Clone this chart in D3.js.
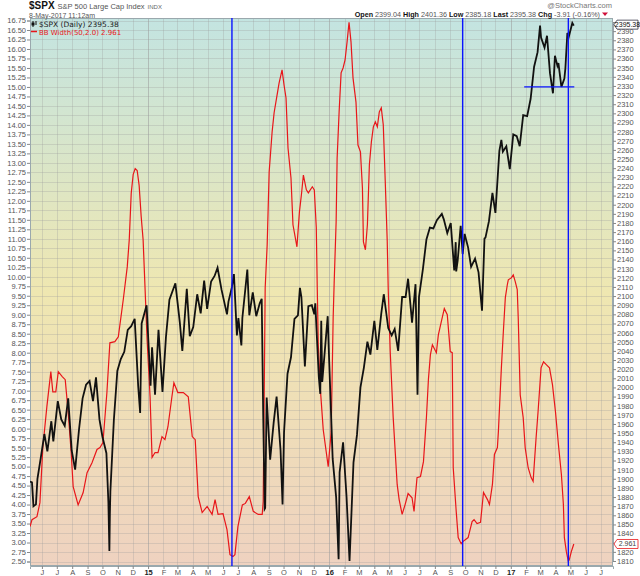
<!DOCTYPE html>
<html>
<head>
<meta charset="utf-8">
<script src="https://cdn.jsdelivr.net/npm/d3@7"></script>
<style>
  body { margin: 0; background: #fff; }
  text { font-family: "Liberation Sans", Arial, sans-serif; }
</style>
</head>
<body>
<div id="chart"></div>
<script>
var svgWidth = 640;
var svgHeight = 576;

var margin = { top: 18, right: 27, bottom: 10, left: 30 };

var width = svgWidth - margin.left - margin.right;
var height = svgHeight - margin.top - margin.bottom;

// BB Width (50,2.0), left axis
var bbWidth = [
  ["2014-05-08", 3.42], ["2014-05-12", 3.6], ["2014-05-22", 3.68], ["2014-05-28", 4.05],
  ["2014-06-03", 5.53], ["2014-06-11", 6.58], ["2014-06-19", 7.5], ["2014-06-23", 6.97],
  ["2014-06-29", 6.97], ["2014-07-04", 7.5], ["2014-07-12", 7.37], ["2014-07-18", 7.29],
  ["2014-07-24", 6.42], ["2014-07-30", 5.37], ["2014-08-03", 4.47], ["2014-08-13", 3.99],
  ["2014-08-23", 4.31], ["2014-08-31", 4.84], ["2014-09-10", 5.1], ["2014-09-20", 5.45],
  ["2014-09-26", 5.5], ["2014-10-02", 5.63], ["2014-10-10", 6.95], ["2014-10-16", 8.26],
  ["2014-10-26", 8.29], ["2014-11-02", 8.42], ["2014-11-12", 9.4], ["2014-11-20", 10.26],
  ["2014-11-24", 10.97], ["2014-11-28", 12.2], ["2014-12-02", 12.7], ["2014-12-06", 12.85],
  ["2014-12-10", 12.8], ["2014-12-14", 12.4], ["2014-12-18", 11.6], ["2014-12-22", 10.97],
  ["2014-12-30", 8.34], ["2015-01-05", 6.84], ["2015-01-09", 5.24], ["2015-01-15", 5.37],
  ["2015-01-21", 5.37], ["2015-01-29", 5.79], ["2015-02-04", 5.71], ["2015-02-10", 6.05],
  ["2015-02-18", 6.84], ["2015-02-22", 7.21], ["2015-03-02", 6.95], ["2015-03-13", 6.95],
  ["2015-03-23", 6.84], ["2015-03-31", 5.79], ["2015-04-06", 5.71], ["2015-04-12", 4.21],
  ["2015-04-20", 3.79], ["2015-04-30", 3.95], ["2015-05-10", 3.74], ["2015-05-16", 4.13],
  ["2015-05-22", 3.74], ["2015-06-01", 3.76], ["2015-06-09", 3.34], ["2015-06-15", 2.68],
  ["2015-06-21", 2.63], ["2015-06-25", 2.68], ["2015-07-01", 3.42], ["2015-07-10", 3.99],
  ["2015-07-16", 4.03], ["2015-07-24", 4.21], ["2015-08-01", 3.82], ["2015-08-11", 3.74],
  ["2015-08-19", 3.74], ["2015-08-21", 4.08], ["2015-08-25", 9.71], ["2015-08-29", 10.84],
  ["2015-09-02", 12.76], ["2015-09-08", 13.82], ["2015-09-12", 14.32], ["2015-09-18", 14.79],
  ["2015-09-22", 15.1], ["2015-09-28", 15.45], ["2015-10-02", 15.05], ["2015-10-06", 14.71],
  ["2015-10-10", 13.39], ["2015-10-16", 12.6], ["2015-10-20", 11.37], ["2015-10-28", 10.79],
  ["2015-11-02", 11.71], ["2015-11-06", 12.16], ["2015-11-10", 12.68], ["2015-11-16", 12.29],
  ["2015-11-20", 12.21], ["2015-11-28", 12.37], ["2015-12-02", 12.29], ["2015-12-06", 11.29],
  ["2015-12-08", 9.66], ["2015-12-10", 8.21], ["2015-12-14", 7.08], ["2015-12-20", 5.97],
  ["2015-12-26", 5.39], ["2015-12-30", 5.0], ["2016-01-05", 5.92], ["2016-01-09", 8.92],
  ["2016-01-11", 9.83], ["2016-01-15", 11.45], ["2016-01-17", 13.13], ["2016-01-21", 14.34],
  ["2016-01-25", 15.37], ["2016-01-29", 15.5], ["2016-02-02", 15.71], ["2016-02-06", 16.18],
  ["2016-02-10", 16.7], ["2016-02-14", 16.18], ["2016-02-18", 15.24], ["2016-02-24", 14.6],
  ["2016-02-28", 13.47], ["2016-03-04", 13.29], ["2016-03-08", 12.34], ["2016-03-10", 10.92],
  ["2016-03-14", 10.71], ["2016-03-18", 11.37], ["2016-03-22", 12.95], ["2016-03-26", 13.55],
  ["2016-03-30", 13.95], ["2016-04-03", 14.08], ["2016-04-07", 13.95], ["2016-04-11", 14.34],
  ["2016-04-15", 14.45], ["2016-04-19", 14.0], ["2016-04-23", 12.5], ["2016-04-27", 10.92],
  ["2016-04-29", 9.66], ["2016-05-03", 8.03], ["2016-05-09", 6.29], ["2016-05-17", 4.53],
  ["2016-05-21", 4.13], ["2016-05-27", 3.74], ["2016-06-02", 4.0], ["2016-06-08", 4.29],
  ["2016-06-16", 4.18], ["2016-06-20", 3.82], ["2016-06-26", 4.71], ["2016-07-03", 4.74],
  ["2016-07-09", 5.13], ["2016-07-15", 6.3], ["2016-07-19", 7.3], ["2016-07-23", 7.95],
  ["2016-07-27", 8.21], ["2016-08-04", 8.0], ["2016-08-08", 8.47], ["2016-08-14", 8.82],
  ["2016-08-20", 9.16], ["2016-08-26", 9.0], ["2016-09-01", 8.03], ["2016-09-05", 8.0],
  ["2016-09-07", 4.97], ["2016-09-13", 3.82], ["2016-09-17", 3.13], ["2016-09-23", 2.97],
  ["2016-09-27", 3.03], ["2016-10-07", 3.13], ["2016-10-15", 3.55], ["2016-10-19", 3.6],
  ["2016-10-25", 3.5], ["2016-11-01", 3.53], ["2016-11-07", 4.32], ["2016-11-15", 4.13],
  ["2016-11-19", 4.0], ["2016-11-25", 4.53], ["2016-11-29", 5.32], ["2016-12-05", 5.5],
  ["2016-12-07", 5.92], ["2016-12-13", 7.6], ["2016-12-17", 8.55], ["2016-12-21", 9.45],
  ["2016-12-25", 9.79], ["2016-12-27", 9.92], ["2017-01-02", 9.97], ["2017-01-06", 10.05],
  ["2017-01-10", 9.87], ["2017-01-14", 9.66], ["2017-01-16", 8.92], ["2017-01-20", 6.89],
  ["2017-01-26", 6.29], ["2017-01-30", 5.5], ["2017-02-05", 4.97], ["2017-02-11", 4.71],
  ["2017-02-15", 4.61], ["2017-02-21", 5.76], ["2017-02-25", 6.45], ["2017-03-03", 7.6],
  ["2017-03-08", 7.76], ["2017-03-14", 7.68], ["2017-03-20", 7.6], ["2017-03-26", 7.16],
  ["2017-04-01", 6.45], ["2017-04-07", 5.58], ["2017-04-13", 4.79], ["2017-04-17", 4.0],
  ["2017-04-19", 3.13], ["2017-04-23", 2.76], ["2017-04-27", 2.5], ["2017-04-29", 2.55],
  ["2017-05-03", 2.76], ["2017-05-08", 2.961]
];

// $SPX price, right axis (closes with the visible intraday spikes)
var spxPrice = [
  ["2014-05-08", 1897], ["2014-05-12", 1896], ["2014-05-15", 1870], ["2014-05-20", 1872],
  ["2014-05-23", 1900], ["2014-05-30", 1924], ["2014-06-06", 1949], ["2014-06-12", 1930],
  ["2014-06-20", 1963], ["2014-06-24", 1941], ["2014-07-03", 1985], ["2014-07-10", 1965],
  ["2014-07-17", 1958], ["2014-07-24", 1988], ["2014-07-31", 1931], ["2014-08-07", 1910],
  ["2014-08-15", 1955], ["2014-08-22", 1988], ["2014-08-29", 2003], ["2014-09-05", 2007],
  ["2014-09-12", 1985], ["2014-09-18", 2011], ["2014-09-25", 1965], ["2014-10-01", 1946],
  ["2014-10-09", 1928], ["2014-10-13", 1874], ["2014-10-15", 1821], ["2014-10-16", 1862],
  ["2014-10-17", 1886], ["2014-10-24", 1964], ["2014-10-31", 2018], ["2014-11-07", 2031],
  ["2014-11-14", 2039], ["2014-11-21", 2063], ["2014-11-28", 2067], ["2014-12-05", 2075],
  ["2014-12-12", 2002], ["2014-12-16", 1972], ["2014-12-19", 2070], ["2014-12-29", 2090],
  ["2015-01-06", 2002], ["2015-01-09", 2044], ["2015-01-15", 1992], ["2015-01-22", 2063],
  ["2015-01-30", 1995], ["2015-02-06", 2055], ["2015-02-13", 2096], ["2015-02-25", 2114],
  ["2015-03-06", 2071], ["2015-03-11", 2040], ["2015-03-20", 2108], ["2015-03-26", 2056],
  ["2015-04-02", 2066], ["2015-04-10", 2102], ["2015-04-17", 2081], ["2015-04-24", 2117],
  ["2015-04-30", 2086], ["2015-05-08", 2116], ["2015-05-15", 2122], ["2015-05-21", 2131],
  ["2015-05-29", 2107], ["2015-06-09", 2080], ["2015-06-12", 2094], ["2015-06-19", 2110],
  ["2015-06-23", 2124], ["2015-06-29", 2057], ["2015-07-02", 2076], ["2015-07-08", 2046],
  ["2015-07-10", 2076], ["2015-07-20", 2129], ["2015-07-24", 2079], ["2015-07-31", 2104],
  ["2015-08-07", 2078], ["2015-08-14", 2092], ["2015-08-18", 2097], ["2015-08-21", 1971],
  ["2015-08-24", 1867], ["2015-08-25", 1868], ["2015-08-28", 1989], ["2015-09-04", 1921],
  ["2015-09-11", 1961], ["2015-09-17", 1990], ["2015-09-25", 1931], ["2015-09-29", 1872],
  ["2015-10-02", 1951], ["2015-10-09", 2015], ["2015-10-16", 2033], ["2015-10-23", 2075],
  ["2015-10-30", 2079], ["2015-11-03", 2109], ["2015-11-06", 2099], ["2015-11-13", 2023],
  ["2015-11-20", 2089], ["2015-11-27", 2090], ["2015-12-02", 2080], ["2015-12-04", 2092],
  ["2015-12-11", 2012], ["2015-12-14", 1993], ["2015-12-16", 2073], ["2015-12-18", 2006],
  ["2015-12-29", 2078], ["2015-12-31", 2044], ["2016-01-08", 1922], ["2016-01-15", 1880],
  ["2016-01-20", 1812], ["2016-01-22", 1907], ["2016-01-29", 1940], ["2016-02-05", 1880],
  ["2016-02-11", 1810], ["2016-02-19", 1918], ["2016-02-26", 1948], ["2016-03-04", 2000],
  ["2016-03-11", 2022], ["2016-03-18", 2050], ["2016-03-24", 2036], ["2016-04-01", 2073],
  ["2016-04-07", 2041], ["2016-04-15", 2081], ["2016-04-20", 2102], ["2016-04-29", 2065],
  ["2016-05-06", 2057], ["2016-05-12", 2064], ["2016-05-19", 2040], ["2016-05-27", 2099],
  ["2016-06-03", 2099], ["2016-06-08", 2119], ["2016-06-16", 2071], ["2016-06-23", 2113],
  ["2016-06-27", 1992], ["2016-06-30", 2099], ["2016-07-08", 2130], ["2016-07-15", 2162],
  ["2016-07-22", 2175], ["2016-07-29", 2174], ["2016-08-05", 2183], ["2016-08-15", 2190],
  ["2016-08-19", 2184], ["2016-08-26", 2169], ["2016-09-02", 2180], ["2016-09-09", 2128],
  ["2016-09-12", 2159], ["2016-09-13", 2127], ["2016-09-16", 2139], ["2016-09-22", 2177],
  ["2016-09-26", 2146], ["2016-09-30", 2168], ["2016-10-07", 2153], ["2016-10-13", 2132],
  ["2016-10-21", 2141], ["2016-10-28", 2126], ["2016-11-04", 2084], ["2016-11-09", 2163],
  ["2016-11-11", 2164], ["2016-11-18", 2182], ["2016-11-25", 2213], ["2016-12-01", 2191],
  ["2016-12-09", 2259], ["2016-12-13", 2271], ["2016-12-16", 2258], ["2016-12-23", 2264],
  ["2016-12-30", 2239], ["2017-01-06", 2277], ["2017-01-13", 2275], ["2017-01-19", 2264],
  ["2017-01-26", 2298], ["2017-02-03", 2297], ["2017-02-10", 2316], ["2017-02-17", 2351],
  ["2017-02-24", 2367], ["2017-03-01", 2396], ["2017-03-03", 2383], ["2017-03-10", 2372],
  ["2017-03-15", 2385], ["2017-03-21", 2344], ["2017-03-27", 2322], ["2017-03-31", 2363],
  ["2017-04-05", 2352], ["2017-04-07", 2355], ["2017-04-13", 2329], ["2017-04-19", 2338],
  ["2017-04-21", 2349], ["2017-04-25", 2388], ["2017-04-28", 2384], ["2017-05-05", 2399],
  ["2017-05-08", 2396]
];

// vertical markers and the horizontal support line
var markerDates = ["2015-06-19", "2016-09-26", "2017-04-27"];
var supportLevel = 2329;
var supportRange = ["2017-01-28", "2017-05-09"];

var monthLetters = ["J", "F", "M", "A", "M", "J", "J", "A", "S", "O", "N", "D"];
var quoteFields = ["Open", "2399.04", "High", "2401.36", "Low", "2385.18", "Last", "2395.38", "Chg", "-3.91 (-0.16%)"];

var parseDate = d3.timeParse("%Y-%m-%d");

var svg = d3.select("#chart")
  .append("svg")
  .attr("width", svgWidth)
  .attr("height", svgHeight);

// scales
var xTimeScale = d3.scaleTime()
  .domain([parseDate("2014-05-08"), parseDate("2017-07-26")])
  .range([margin.left, margin.left + width]);

var yLeftScale = d3.scaleLinear()
  .domain([2.5, 16.75])
  .range([561.5, 20.5]);

var yRightScale = d3.scaleLinear()
  .domain([1810, 2400])
  .range([561, 22]);

// positions of the last-value tags
var spxTagY = yRightScale(spxPrice[spxPrice.length - 1][1]) - 1;
var bbTagY = yLeftScale(bbWidth[bbWidth.length - 1][1]);

// background gradient
var defs = svg.append("defs");
var grad = defs.append("linearGradient")
  .attr("id", "bg")
  .attr("x1", 0).attr("y1", 0).attr("x2", 0).attr("y2", 1);
grad.append("stop").attr("offset", "0%").attr("stop-color", "#c3e4e1");
grad.append("stop").attr("offset", "50%").attr("stop-color", "#efe7b1");
grad.append("stop").attr("offset", "100%").attr("stop-color", "#efd2c0");

defs.append("clipPath").attr("id", "plotclip")
  .append("rect")
  .attr("x", margin.left).attr("y", margin.top)
  .attr("width", width).attr("height", height);

svg.append("rect")
  .attr("x", margin.left)
  .attr("y", margin.top)
  .attr("width", width)
  .attr("height", height)
  .attr("fill", "url(#bg)");

// gridlines
var leftTicks = d3.range(2.5, 16.76, 0.25);
var rightTicks = d3.range(1810, 2401, 10);
var months = d3.timeMonth.range(parseDate("2014-06-01"), parseDate("2017-08-01"));

var grid = svg.append("g").attr("clip-path", "url(#plotclip)");

grid.selectAll(".hgrid")
  .data(leftTicks)
  .enter()
  .append("line")
  .attr("x1", margin.left)
  .attr("x2", margin.left + width)
  .attr("y1", d => Math.round(yLeftScale(d)) + 0.5)
  .attr("y2", d => Math.round(yLeftScale(d)) + 0.5)
  .attr("stroke", "#9a9a9a")
  .attr("stroke-opacity", 0.3);

grid.selectAll(".vgrid")
  .data(months)
  .enter()
  .append("line")
  .attr("x1", d => Math.round(xTimeScale(d)) + 0.5)
  .attr("x2", d => Math.round(xTimeScale(d)) + 0.5)
  .attr("y1", margin.top)
  .attr("y2", margin.top + height)
  .attr("stroke", "#9a9a9a")
  .attr("stroke-opacity", d => d.getMonth() === 0 ? 0.55 : 0.3);

// axes
var leftAxis = d3.axisLeft(yLeftScale)
  .tickValues(leftTicks)
  .tickFormat(d3.format(".2f"))
  .tickSize(3)
  .tickPadding(1);

var rightAxis = d3.axisRight(yRightScale)
  .tickValues(rightTicks)
  .tickFormat(d3.format("d"))
  .tickSize(3)
  .tickPadding(1);

var bottomAxis = d3.axisBottom(xTimeScale)
  .tickValues(months)
  .tickFormat(d => d.getMonth() === 0 ? d3.timeFormat("%y")(d) : monthLetters[d.getMonth()])
  .tickSize(3)
  .tickPadding(1);

var leftG = svg.append("g")
  .attr("transform", `translate(${margin.left}, 0)`)
  .call(leftAxis);

var rightG = svg.append("g")
  .attr("transform", `translate(${margin.left + width}, 0)`)
  .call(rightAxis);

var bottomG = svg.append("g")
  .attr("transform", `translate(0, ${margin.top + height})`)
  .call(bottomAxis);

[leftG, rightG, bottomG].forEach(function(g) {
  g.select(".domain").attr("stroke", "#9aa8ad");
  g.selectAll(".tick line").attr("stroke", "#888");
  g.selectAll(".tick text")
    .attr("fill", "#555")
    .style("font-size", "7.5px")
    .style("font-family", "'Liberation Sans', Arial, sans-serif");
});

// the tags sit on top of these labels, so leave them blank
rightG.selectAll(".tick text")
  .filter(d => Math.abs(yRightScale(d) - spxTagY) < 6 || Math.abs(yRightScale(d) - bbTagY) < 6)
  .text("");

bottomG.selectAll(".tick text")
  .filter(d => d.getMonth() === 0)
  .attr("fill", "#222")
  .style("font-weight", "bold");

svg.append("rect")
  .attr("x", margin.left + 0.5)
  .attr("y", margin.top + 0.5)
  .attr("width", width - 1)
  .attr("height", height - 1)
  .attr("fill", "none")
  .attr("stroke", "#9aa8ad");

// series
var plot = svg.append("g").attr("clip-path", "url(#plotclip)");

var spxLine = d3.line()
  .x(d => xTimeScale(parseDate(d[0])))
  .y(d => yRightScale(d[1]));

var bbLine = d3.line()
  .x(d => xTimeScale(parseDate(d[0])))
  .y(d => yLeftScale(d[1]));

plot.append("path")
  .datum(bbWidth)
  .attr("d", bbLine)
  .attr("fill", "none")
  .attr("stroke", "#e8161a")
  .attr("stroke-width", 1.2);

plot.append("path")
  .datum(spxPrice)
  .attr("d", spxLine)
  .attr("fill", "none")
  .attr("stroke", "#111")
  .attr("stroke-width", 1.8)
  .attr("stroke-linejoin", "miter");

// blue markers
plot.selectAll(".marker")
  .data(markerDates)
  .enter()
  .append("line")
  .attr("x1", d => xTimeScale(parseDate(d)))
  .attr("x2", d => xTimeScale(parseDate(d)))
  .attr("y1", margin.top)
  .attr("y2", margin.top + height)
  .attr("stroke", "#0a14ff")
  .attr("stroke-width", 1.4);

plot.append("line")
  .attr("x1", xTimeScale(parseDate(supportRange[0])))
  .attr("x2", xTimeScale(parseDate(supportRange[1])))
  .attr("y1", yRightScale(supportLevel))
  .attr("y2", yRightScale(supportLevel))
  .attr("stroke", "#0a14ff")
  .attr("stroke-width", 1.4);

// last value tags on the right axis
function valueTag(yPos, label, stroke, color) {
  var tx = margin.left + width + 1;
  var tag = svg.append("g");
  tag.append("path")
    .attr("d", `M${tx},${yPos} L${tx + 3},${yPos - 4.5} L${tx + 24},${yPos - 4.5} L${tx + 24},${yPos + 4.5} L${tx + 3},${yPos + 4.5} Z`)
    .attr("fill", "#fff")
    .attr("stroke", stroke)
    .attr("stroke-width", 0.8);
  tag.append("text")
    .attr("x", tx + 13.5)
    .attr("y", yPos + 2.5)
    .attr("text-anchor", "middle")
    .attr("fill", color)
    .style("font-size", "7px")
    .text(label);
}
valueTag(spxTagY, "2395.38", "#334", "#111");
valueTag(bbTagY, "2.961", "#e8161a", "#444");

// legend
var legend = svg.append("g");
legend.append("line")
  .attr("x1", 33).attr("x2", 33).attr("y1", 21).attr("y2", 27)
  .attr("stroke", "#111");
legend.append("rect")
  .attr("x", 31.5).attr("y", 22.5).attr("width", 3).attr("height", 3)
  .attr("fill", "#111");
legend.append("line")
  .attr("x1", 36).attr("x2", 36).attr("y1", 21).attr("y2", 25)
  .attr("stroke", "#111");
legend.append("text")
  .attr("x", 39).attr("y", 26.5)
  .attr("fill", "#222")
  .style("font-family", "'DejaVu Sans', sans-serif")
  .style("font-size", "7.5px")
  .text("$SPX (Daily) 2395.38");
legend.append("line")
  .attr("x1", 31).attr("x2", 37).attr("y1", 31.5).attr("y2", 31.5)
  .attr("stroke", "#e8161a")
  .attr("stroke-width", 1.5);
legend.append("text")
  .attr("x", 39).attr("y", 34.5)
  .attr("fill", "#e8161a")
  .style("font-family", "'DejaVu Sans', sans-serif")
  .style("font-size", "7px")
  .text("BB Width(50,2.0) 2.961");

// header
var header = svg.append("g");
var symbol = header.append("text")
  .attr("x", 29).attr("y", 9)
  .attr("fill", "#111")
  .style("font-size", "10px")
  .style("font-weight", "bold")
  .text("$SPX");
var nameX = 29 + symbol.node().getComputedTextLength() + 3;
var title = header.append("text")
  .attr("x", nameX).attr("y", 8.5)
  .attr("fill", "#555")
  .style("font-size", "7.5px")
  .text("S&P 500 Large Cap Index");
header.append("text")
  .attr("x", nameX + title.node().getComputedTextLength() + 3).attr("y", 8.5)
  .attr("fill", "#666")
  .style("font-size", "6px")
  .text("INDX");
header.append("text")
  .attr("x", 29).attr("y", 17.5)
  .attr("fill", "#555")
  .style("font-size", "7px")
  .text("8-May-2017 11:12am");
header.append("text")
  .attr("x", 612).attr("y", 7.5)
  .attr("text-anchor", "end")
  .attr("fill", "#777")
  .style("font-size", "7.5px")
  .text("@StockCharts.com");

var quote = header.append("text")
  .attr("x", 600).attr("y", 16.5)
  .attr("text-anchor", "end")
  .style("font-size", "7.2px");
quoteFields.forEach(function(f, i) {
  quote.append("tspan")
    .attr("fill", i % 2 === 0 ? "#111" : "#555")
    .style("font-weight", i % 2 === 0 ? "bold" : "normal")
    .text((i > 0 ? " " : "") + f);
});
header.append("path")
  .attr("d", "M602,12.5 L608,12.5 L605,16 Z")
  .attr("fill", "#d0103a");
</script>
</body>
</html>
